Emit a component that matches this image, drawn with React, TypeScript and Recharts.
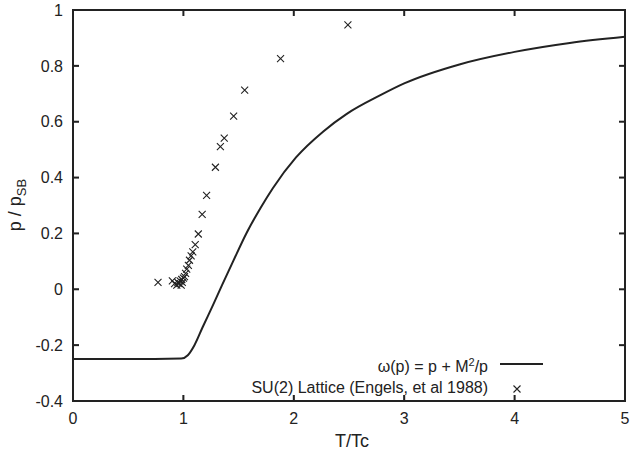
import React from 'react';
import { ComposedChart, Line, Scatter, XAxis, YAxis } from 'recharts';

// omega(p) = p + M^2/p curve
const curveT = [0, 0.5, 0.98, 1.04, 1.1, 1.175, 1.27, 1.35, 1.45, 1.57, 1.7, 1.81, 2.02, 2.27, 2.48, 2.78, 3, 3.5, 4, 4.5, 5];
const curveV = [-0.25, -0.25, -0.248, -0.236, -0.2, -0.135, -0.055, 0.015, 0.1, 0.2, 0.292, 0.362, 0.472, 0.566, 0.628, 0.694, 0.737, 0.805, 0.85, 0.882, 0.904];

// SU(2) lattice points (Engels et al 1988)
const latticeT = [0.77, 0.9, 0.92, 0.94, 0.95, 0.96, 0.97, 0.98, 0.985, 0.99, 1.0, 1.01, 1.02, 1.03, 1.045, 1.055, 1.07, 1.085, 1.107, 1.135, 1.17, 1.21, 1.29, 1.335, 1.37, 1.455, 1.555, 1.88, 2.49];
const latticeV = [0.025, 0.03, 0.02, 0.015, 0.025, 0.02, 0.03, 0.015, 0.035, 0.025, 0.04, 0.045, 0.057, 0.072, 0.086, 0.104, 0.12, 0.134, 0.16, 0.198, 0.268, 0.336, 0.437, 0.511, 0.541, 0.62, 0.713, 0.826, 0.947];

const xTicks = [0, 1, 2, 3, 4, 5];
const yTicks = [-0.4, -0.2, 0, 0.2, 0.4, 0.6, 0.8, 1];

const curveName = 'ω(p) = p + M²/p';
const latticeName = 'SU(2) Lattice (Engels, et al 1988)';

const curveData = curveT.map((t, i) => ({ t, v: curveV[i] }));
const latticeData = latticeT.map((t, i) => ({ t, v: latticeV[i] }));

const FONT = '"Liberation Sans", Arial, Helvetica, sans-serif';
const INK = '#222';

// plot box (matches chart margins + axis sizes below)
const PLOT = { left: 73, right: 625, top: 10, bottom: 401 };
const px = (t: number) => PLOT.left + (t / 5) * (PLOT.right - PLOT.left);
const py = (v: number) => PLOT.bottom - ((v + 0.4) / 1.4) * (PLOT.bottom - PLOT.top);

const Cross = (props: any) => {
    const { cx, cy } = props;
    if (cx == null || cy == null) return null;
    const s = 3.5;
    return (
        <path
            d={`M${cx - s},${cy - s}L${cx + s},${cy + s}M${cx - s},${cy + s}L${cx + s},${cy - s}`}
            stroke={INK}
            strokeWidth={1.1}
            fill="none"
        />
    );
};

// frame, inward ticks, legend and axis titles
const Overlay = () => (
    <svg width={632} height={455} style={{ position: 'absolute', left: 0, top: 0, pointerEvents: 'none' }}>
        <line x1={PLOT.left} x2={PLOT.right} y1={PLOT.top} y2={PLOT.top} stroke={INK} strokeWidth={2} />
        <line x1={PLOT.left} x2={PLOT.right} y1={PLOT.bottom} y2={PLOT.bottom} stroke={INK} strokeWidth={2} />
        <line x1={PLOT.left} x2={PLOT.left} y1={PLOT.top - 1} y2={PLOT.bottom + 1} stroke={INK} strokeWidth={2} />
        <line x1={PLOT.right} x2={PLOT.right} y1={PLOT.top - 1} y2={PLOT.bottom + 1} stroke={INK} strokeWidth={2} />
        {xTicks.map((t) => (
            <g key={`xt${t}`}>
                <line x1={px(t)} x2={px(t)} y1={PLOT.bottom} y2={PLOT.bottom - 6} stroke={INK} strokeWidth={2} />
                <line x1={px(t)} x2={px(t)} y1={PLOT.top} y2={PLOT.top + 6} stroke={INK} strokeWidth={2} />
            </g>
        ))}
        {yTicks.map((v) => (
            <g key={`yt${v}`}>
                <line x1={PLOT.left} x2={PLOT.left + 6} y1={py(v)} y2={py(v)} stroke={INK} strokeWidth={2} />
                <line x1={PLOT.right} x2={PLOT.right - 6} y1={py(v)} y2={py(v)} stroke={INK} strokeWidth={2} />
            </g>
        ))}
        <text x={488} y={372} textAnchor="end" fontSize={16} fontFamily={FONT} fill={INK}>
            ω(p) = p + M<tspan dy={-6} fontSize={11}>2</tspan><tspan dy={6}>/p</tspan>
        </text>
        <line x1={500} x2={543} y1={364} y2={364} stroke={INK} strokeWidth={2} />
        <text x={488} y={393} textAnchor="end" fontSize={16} fontFamily={FONT} fill={INK}>
            {latticeName}
        </text>
        <Cross cx={517} cy={389} />
        <text x={21} y={205} transform="rotate(-90, 21, 205)" textAnchor="middle" fontSize={18} fontFamily={FONT} fill={INK}>
            p / p<tspan dy={5} fontSize={13}>SB</tspan>
        </text>
        <text x={352} y={447} textAnchor="middle" fontSize={18} fontFamily={FONT} fill={INK}>
            T/Tc
        </text>
    </svg>
);

export default function App() {
    return (
        <div style={{ position: 'absolute', left: 0, top: 0 }}>
            <ComposedChart
                width={632}
                height={455}
                margin={{ top: 9, right: 6, bottom: 0, left: 0 }}
            >
                <XAxis
                    xAxisId="x"
                    dataKey="t"
                    type="number"
                    domain={[0, 5]}
                    ticks={xTicks}
                    height={54}
                    tickSize={-6}
                    tickMargin={18}
                    stroke={INK}
                    strokeWidth={1}
                    tick={{ fill: INK, fontSize: 16, fontFamily: FONT }}
                />
                <XAxis
                    xAxisId="top"
                    orientation="top"
                    type="number"
                    domain={[0, 5]}
                    ticks={xTicks}
                    height={1}
                    tickSize={-6}
                    tick={false}
                    stroke={INK}
                    strokeWidth={1}
                />
                <YAxis
                    yAxisId="y"
                    type="number"
                    domain={[-0.4, 1]}
                    ticks={yTicks}
                    width={73}
                    tickSize={-6}
                    tickMargin={16}
                    stroke={INK}
                    strokeWidth={1}
                    tick={{ fill: INK, fontSize: 16, fontFamily: FONT }}
                />
                <YAxis
                    yAxisId="right"
                    orientation="right"
                    type="number"
                    domain={[-0.4, 1]}
                    ticks={yTicks}
                    width={1}
                    tickSize={-6}
                    tick={false}
                    stroke={INK}
                    strokeWidth={1}
                />
                <Line
                    xAxisId="x"
                    yAxisId="y"
                    name={curveName}
                    data={curveData}
                    dataKey="v"
                    type="monotone"
                    stroke={INK}
                    strokeWidth={2}
                    dot={false}
                    isAnimationActive={false}
                />
                <Scatter
                    xAxisId="x"
                    yAxisId="y"
                    name={latticeName}
                    data={latticeData}
                    dataKey="v"
                    shape={<Cross />}
                    isAnimationActive={false}
                />
            </ComposedChart>
            <Overlay />
        </div>
    );
}
